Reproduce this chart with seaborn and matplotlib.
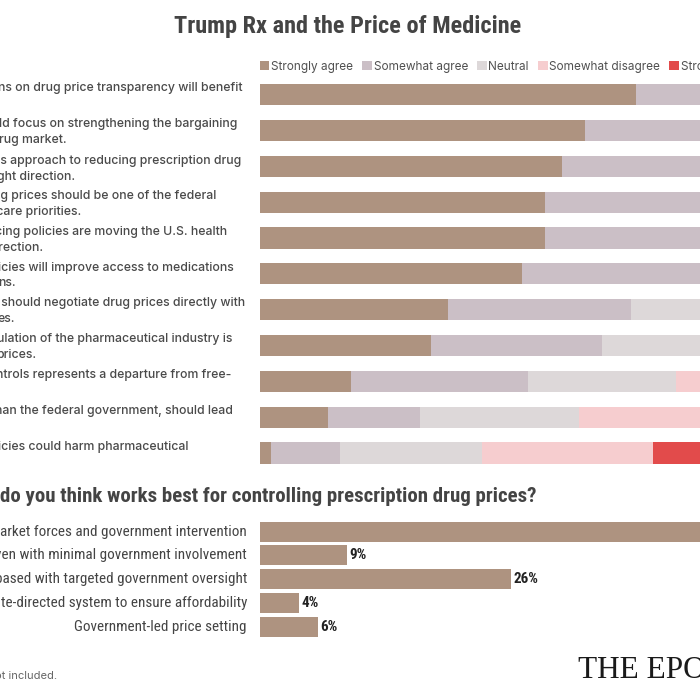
import matplotlib
matplotlib.use("Agg")
import matplotlib.pyplot as plt
import seaborn as sns
import pandas as pd
from matplotlib.patches import Patch

# --- data -------------------------------------------------------------
statements = [
    "ns on drug price transparency will benefit",
    "ld focus on strengthening the bargaining\nrug market.",
    "\u2019s approach to reducing prescription drug\nght direction.",
    "ug prices should be one of the federal\n care priorities.",
    "cing policies are moving the U.S. health\nirection.",
    "icies will improve access to medications\nns.",
    " should negotiate drug prices directly with\nes.",
    "ulation of the pharmaceutical industry is\nprices.",
    "ntrols represents a departure from free-",
    "han the federal government, should lead",
    "icies could harm pharmaceutical",
]
responses = ["Strongly agree", "Somewhat agree", "Neutral",
             "Somewhat disagree", "Strongly disagree"]
strongly_agree = [66, 57, 53, 50, 50, 46, 33, 30, 16, 12, 2]
somewhat_agree = [24, 28, 30, 31, 30, 32, 32, 30, 31, 16, 12]
neutral = [6, 9, 10, 12, 12, 13, 20, 22, 26, 28, 25]
somewhat_disagree = [2, 4, 5, 5, 5, 6, 10, 12, 17, 29, 30]
strongly_disagree = [2, 2, 2, 2, 3, 3, 5, 6, 10, 15, 31]

approaches = [
    "arket forces and government intervention",
    "ven with minimal government involvement",
    "based with targeted government oversight",
    "te-directed system to ensure affordability",
    "Government-led price setting",
]
approach_pct = [55, 9, 26, 4, 6]

colors = ["#ae9380", "#cbbfc6", "#ddd8d9", "#f6cdcf", "#e24b4b"]

# --- fonts ------------------------------------------------------------
label_font = ["Inter", "DejaVu Sans"]
cond = ["Roboto Condensed", "DejaVu Sans"]

sns.set_theme(style="white")
plt.rcParams["font.family"] = label_font

fig = plt.figure(figsize=(7, 7), dpi=100)
fig.patch.set_facecolor("white")

W = H = 700.0
def fx(px):
    return px / W
def fy(py):
    return 1 - py / H

# --- top: stacked agreement bars ----------------------------------------
ax1 = fig.add_axes([fx(260), fy(471), 570 / W, (471 - 76.6) / H])
df = pd.DataFrame({"statement": statements,
                   "Strongly agree": strongly_agree,
                   "Somewhat agree": somewhat_agree,
                   "Neutral": neutral,
                   "Somewhat disagree": somewhat_disagree,
                   "Strongly disagree": strongly_disagree})
cum = df[responses].cumsum(axis=1)
# draw cumulative totals from the widest down so each segment shows
for resp, col in reversed(list(zip(responses, colors))):
    sns.barplot(x=cum[resp], y=df["statement"], color=col, width=0.59,
                orient="h", ax=ax1, saturation=1, linewidth=0)
ax1.set_xlim(0, 100)
ax1.set_ylim(10.5, -0.5)
ax1.axis("off")

right_edges = [242, 237, 241, 216, 227, 234, 245, 232, 231, 233, 188]
for i, (lab, xr) in enumerate(zip(statements, right_edges)):
    ax1.annotate(lab, xy=(fx(xr), i - 0.34), xycoords=("figure fraction", "data"),
                 ha="right", va="top", multialignment="left",
                 fontsize=8.85, fontweight="medium", color="#4a4a4a",
                 family=label_font, linespacing=1.42, annotation_clip=False)

# legend
handles = [Patch(facecolor=c, edgecolor="none", label=r) for r, c in zip(responses, colors)]
fig.legend(handles=handles, loc="center left", bbox_to_anchor=(fx(260), fy(67)),
           ncol=5, frameon=False, fontsize=8.5, handlelength=0.8, handleheight=0.8,
           handletextpad=0.15, columnspacing=0.78, borderpad=0, borderaxespad=0,
           labelcolor="#505050")

# --- bottom: approach bars -------------------------------------------
ax2 = fig.add_axes([fx(260), fy(639), 440 / W, (639 - 519.6) / H])
sns.barplot(x=approach_pct, y=approaches, color=colors[0], width=0.84,
            orient="h", ax=ax2, saturation=1, linewidth=0)
ax2.set_xlim(0, 440 / 9.65)
ax2.set_ylim(4.5, -0.5)
ax2.axis("off")
for i, (lab, v) in enumerate(zip(approaches, approach_pct)):
    ax2.annotate(lab, xy=(fx(247), i), xycoords=("figure fraction", "data"),
                 ha="right", va="center", fontsize=10.9, color="#444444",
                 family=cond, annotation_clip=False)
    ax2.text(v + 0.25, i, f"{v}%", ha="left", va="center", fontsize=10.9,
             fontweight="bold", color="#222222", family=cond, clip_on=False)

# --- titles and footer -------------------------------------------------
fig.text(fx(348), fy(27), "Trump Rx and the Price of Medicine", ha="center", va="center",
         fontsize=17.5, fontweight="bold", color="#444444", family=cond)
fig.text(fx(537), fy(497), "do you think works best for controlling prescription drug prices?",
         ha="right", va="center", fontsize=15, fontweight="bold", color="#444444",
         family=cond)
fig.text(fx(57), fy(676), "ot included.", ha="right", va="center", fontsize=8,
         color="#666666", family=label_font)
fig.text(fx(578), fy(671), "THE EPOCH TIMES", ha="left", va="center", fontsize=22.5,
         color="#1a1a1a", family=["Liberation Serif", "DejaVu Serif"])

fig.savefig("out.png", dpi=100, facecolor="white")
